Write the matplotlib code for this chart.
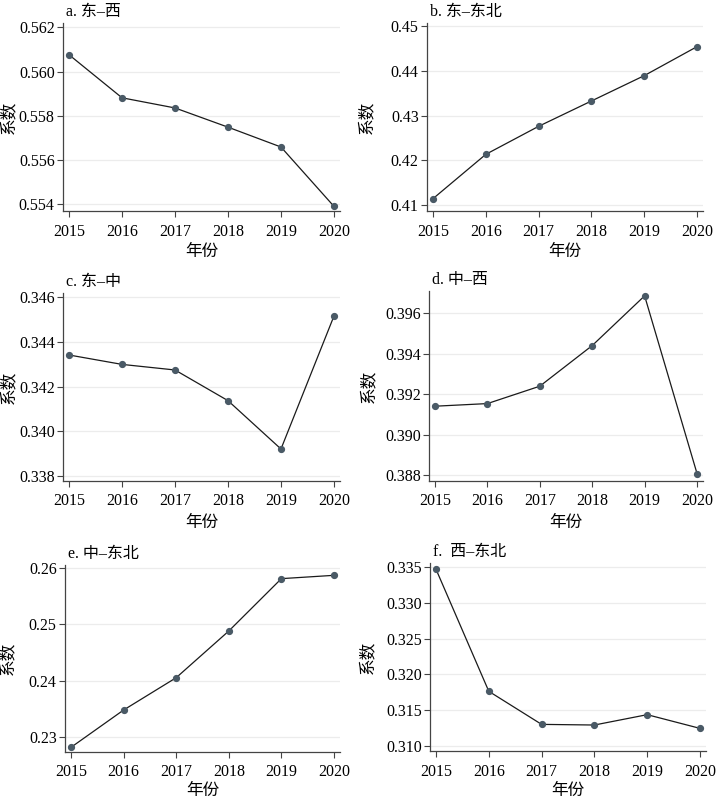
import numpy as np
import matplotlib
matplotlib.use("Agg")
import matplotlib.pyplot as plt

plt.rcParams['font.family'] = ['Liberation Serif', 'Noto Sans CJK SC']

years = [2015, 2016, 2017, 2018, 2019, 2020]

titles = ["a. 东–西", "b. 东–东北", "c. 东–中", "d. 中–西", "e. 中–东北", "f.  西–东北"]

east_west = [0.56076, 0.55881, 0.55835, 0.55748, 0.55658, 0.55389]
east_ne = [0.41142, 0.42132, 0.42758, 0.43324, 0.43890, 0.44538]
east_mid = [0.34341, 0.34299, 0.34274, 0.34137, 0.33921, 0.34515]
mid_west = [0.39140, 0.39153, 0.39239, 0.39440, 0.39686, 0.38807]
mid_ne = [0.22810, 0.23475, 0.24051, 0.24883, 0.25816, 0.25875]
west_ne = [0.33472, 0.31762, 0.31299, 0.31290, 0.31435, 0.31243]

series = [east_west, east_ne, east_mid, mid_west, mid_ne, west_ne]

yticks = [
    [0.554, 0.556, 0.558, 0.560, 0.562],
    [0.41, 0.42, 0.43, 0.44, 0.45],
    [0.338, 0.340, 0.342, 0.344, 0.346],
    [0.388, 0.390, 0.392, 0.394, 0.396],
    [0.23, 0.24, 0.25, 0.26],
    [0.310, 0.315, 0.320, 0.325, 0.330, 0.335],
]
yfmt = ["%.3f", "%.2f", "%.3f", "%.3f", "%.2f", "%.3f"]
ylims = [
    (0.55368, 0.5622),
    (0.40866, 0.45067),
    (0.33778, 0.34618),
    (0.3877, 0.3971),
    (0.22727, 0.26059),
    (0.30926, 0.3356),
]

# axes boxes in pixels: left, right, top, bottom
boxes = [
    (63, 340, 23, 211),
    (427, 703, 23, 211),
    (63, 340, 293, 481),
    (429, 703, 291, 481),
    (65, 340, 565, 752),
    (430, 706, 563, 751),
]
# label centres in pixels: ylabel x, xlabel y
ylab_x = [9, 367, 9, 369, 8, 368]
xlab_y = [252, 252, 523, 523, 791, 791]

W, H = 717, 800
fig = plt.figure(figsize=(W / 100, H / 100), dpi=100)

for i in range(6):
    l, r, t, b = boxes[i]
    ax = fig.add_axes([l / W, 1 - b / H, (r - l) / W, (b - t) / H])
    ax.plot(years, series[i], color='#1a1a1a', lw=0.9, zorder=3)
    ax.plot(years, series[i], 'o', color='#4a5a66', ms=4.2, zorder=4)
    ax.set_xlim(2014.886, 2020.114)
    ax.set_ylim(*ylims[i])
    ax.set_xticks(years)
    ax.set_yticks(yticks[i])
    ax.set_yticklabels([yfmt[i] % v for v in yticks[i]])
    ax.grid(axis='y', color='#ececec', lw=0.9, zorder=0)
    ax.set_axisbelow(True)
    for s in ['top', 'right']:
        ax.spines[s].set_visible(False)
    for s in ['left', 'bottom']:
        ax.spines[s].set_color('#444444')
        ax.spines[s].set_linewidth(0.9)
    ax.tick_params(direction='out', length=4, width=0.8, color='#444444',
                   labelsize=11.5, pad=2)
    ax.tick_params(axis='x', pad=5)
    ax.set_xlabel("年份", fontsize=12)
    ax.set_ylabel("系数", fontsize=12)
    ax.yaxis.set_label_coords((ylab_x[i] - l) / (r - l), 0.5)
    ax.xaxis.set_label_coords(0.5, (b - xlab_y[i]) / (b - t))
    ax.xaxis.label.set_va('center')
    ax.yaxis.label.set_va('center')
    ax.set_title(titles[i], loc='left', fontsize=11.5, pad=5, x=0.012)

fig.savefig("out.png", dpi=100)
